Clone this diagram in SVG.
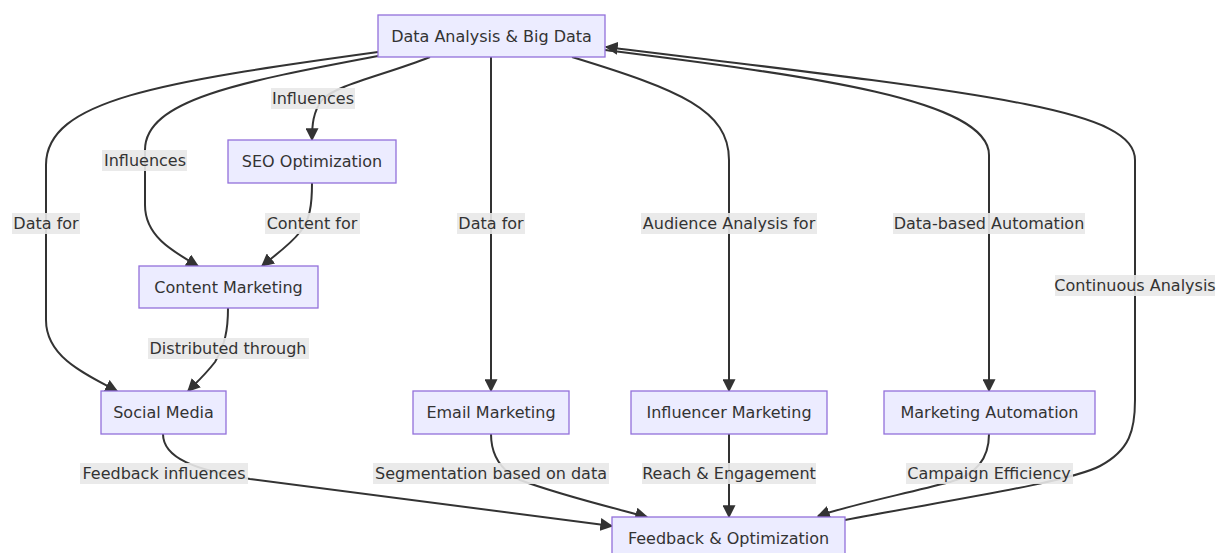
<svg xmlns="http://www.w3.org/2000/svg" width="1216" height="553" viewBox="0 0 1216 553">
  <style>
    .node rect { fill: #ECECFF; stroke: #9370DB; stroke-width: 1.3; }
    .node text, .label text { font-family: "DejaVu Sans", sans-serif; font-size: 16px; fill: #333333; text-anchor: middle; dominant-baseline: central; }
    .edge { fill: none; stroke: #333333; stroke-width: 2; marker-end: url(#arrow); }
    .label rect { fill: #e8e8e8; opacity: 0.9; }
  </style>
  <defs>
    <marker id="arrow" viewBox="0 0 10 10" refX="9" refY="5" markerUnits="userSpaceOnUse" markerWidth="13" markerHeight="13" orient="auto">
      <path d="M0,0 L10,5 L0,10 z" fill="#333333"/>
    </marker>
  </defs>
  <rect width="1216" height="553" fill="#ffffff"/>

  <!-- connectors -->
  <g id="edges">
    <path class="edge" d="M378,52 C160,82 46,100 46,165 L46,320 C46,355 80,372 117,391"/>
    <path class="edge" d="M378,56 C240,82 145,100 145,150 L145,205 C145,235 170,250 198,266"/>
    <path class="edge" d="M430,57 C385,75 335,85 322,100 C313,112 312,125 312,140"/>
    <path class="edge" d="M312,183 C312,205 310,220 300,232 C290,245 275,255 262,266"/>
    <path class="edge" d="M228,308 C228,330 225,345 215,362 C205,375 196,383 188,391"/>
    <path class="edge" d="M491,57 L491,391"/>
    <path class="edge" d="M572,57 C680,90 729,110 729,160 L729,391"/>
    <path class="edge" d="M605,50 C800,75 989,98 989,155 L989,391"/>
    <path class="edge" d="M845,520 C950,500 1070,482 1100,466 C1130,450 1135,430 1135,400 L1135,160 C1135,110 1000,95 606,47"/>
    <path class="edge" d="M163,434 C163,458 195,470 250,479 L612,526"/>
    <path class="edge" d="M491,434 C491,455 500,470 520,480 C560,495 610,507 647,517"/>
    <path class="edge" d="M729,434 L729,517"/>
    <path class="edge" d="M989,434 C989,460 975,475 950,482 C900,495 850,505 818,516"/>
  </g>

  <!-- edge labels -->
  <g id="edge-labels">
    <g class="label"><rect x="271" y="88" width="84" height="21"/><text x="313" y="98.5">Influences</text></g>
    <g class="label"><rect x="102" y="150" width="85" height="21"/><text x="145" y="160.5">Influences</text></g>
    <g class="label"><rect x="12" y="213" width="68" height="21"/><text x="46" y="223.5">Data for</text></g>
    <g class="label"><rect x="265" y="213" width="95" height="21"/><text x="312" y="223.5">Content for</text></g>
    <g class="label"><rect x="457" y="213" width="68" height="21"/><text x="491" y="223.5">Data for</text></g>
    <g class="label"><rect x="641" y="213" width="176" height="21"/><text x="729" y="223.5">Audience Analysis for</text></g>
    <g class="label"><rect x="893" y="213" width="192" height="21"/><text x="989" y="223.5">Data-based Automation</text></g>
    <g class="label"><rect x="1055" y="275" width="160" height="21"/><text x="1135" y="285.5">Continuous Analysis</text></g>
    <g class="label"><rect x="148" y="338" width="161" height="21"/><text x="228" y="348.5">Distributed through</text></g>
    <g class="label"><rect x="80" y="463" width="168" height="21"/><text x="164" y="473.5">Feedback influences</text></g>
    <g class="label"><rect x="373" y="463" width="236" height="21"/><text x="491" y="473.5">Segmentation based on data</text></g>
    <g class="label"><rect x="642" y="463" width="174" height="21"/><text x="729" y="473.5">Reach &amp; Engagement</text></g>
    <g class="label"><rect x="906" y="463" width="167" height="21"/><text x="989" y="473.5">Campaign Efficiency</text></g>
  </g>

  <!-- nodes -->
  <g id="data-analysis" class="node"><rect x="378" y="15" width="227" height="42"/><text x="491.5" y="36">Data Analysis &amp; Big Data</text></g>
  <g id="seo" class="node"><rect x="228" y="140" width="168" height="43"/><text x="312" y="161.5">SEO Optimization</text></g>
  <g id="content-marketing" class="node"><rect x="139" y="266" width="179" height="42"/><text x="228.5" y="287">Content Marketing</text></g>
  <g id="social-media" class="node"><rect x="101" y="391" width="125" height="43"/><text x="163.5" y="412.5">Social Media</text></g>
  <g id="email-marketing" class="node"><rect x="413" y="391" width="156" height="43"/><text x="491" y="412.5">Email Marketing</text></g>
  <g id="influencer-marketing" class="node"><rect x="631" y="391" width="196" height="43"/><text x="729" y="412.5">Influencer Marketing</text></g>
  <g id="marketing-automation" class="node"><rect x="884" y="391" width="211" height="43"/><text x="989.5" y="412.5">Marketing Automation</text></g>
  <g id="feedback-optimization" class="node"><rect x="612" y="517" width="233" height="43"/><text x="728.5" y="538.5">Feedback &amp; Optimization</text></g>
</svg>
